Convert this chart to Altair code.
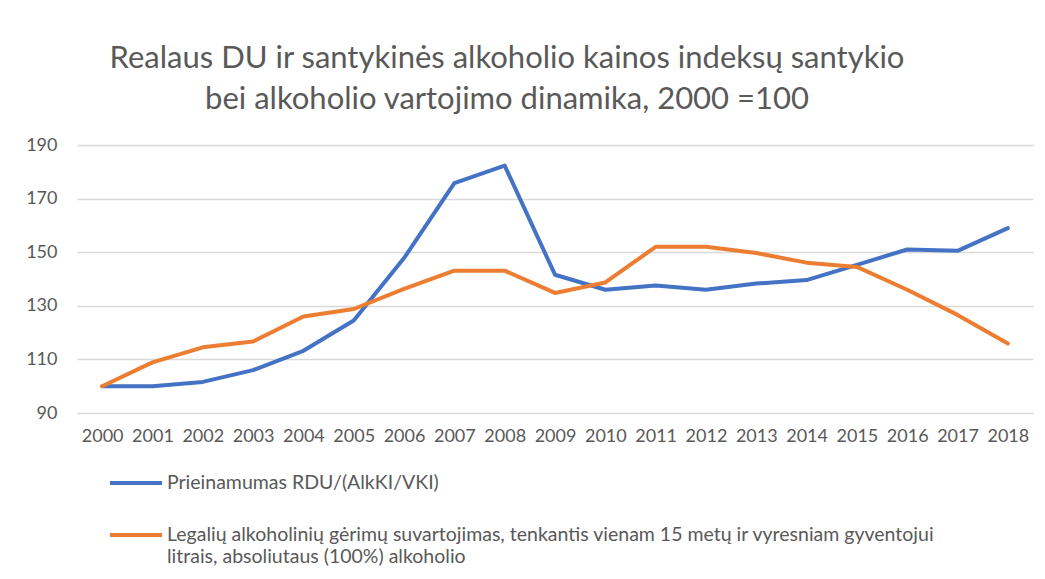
import altair as alt
import pandas as pd

years = ["2000", "2001", "2002", "2003", "2004", "2005", "2006", "2007", "2008", "2009",
         "2010", "2011", "2012", "2013", "2014", "2015", "2016", "2017", "2018"]

series_blue = "Prieinamumas RDU/(AlkKI/VKI)"
series_orange = ("Legalių alkoholinių gėrimų suvartojimas, tenkantis vienam 15 metų ir vyresniam gyventojui"
                 "|litrais, absoliutaus (100%) alkoholio")

values_blue = [100, 100, 101.6, 106, 113.2, 124.5, 147.8, 175.8, 182.3, 141.6,
               136, 137.6, 136, 138.3, 139.6, 145.3, 151, 150.5, 159]
values_orange = [100, 108.9, 114.5, 116.7, 126, 128.8, 136.3, 143.1, 143.1, 134.8,
                 138.7, 152, 152, 149.7, 146.1, 144.5, 136, 126.6, 115.9]

y_ticks = [90, 110, 130, 150, 170, 190]

title_lines = ["Realaus DU ir santykinės alkoholio kainos indeksų santykio",
               "bei alkoholio vartojimo dinamika, 2000 =100"]

rows = []
for y, v in zip(years, values_blue):
    rows.append({"year": y, "value": v, "series": series_blue})
for y, v in zip(years, values_orange):
    rows.append({"year": y, "value": v, "series": series_orange})
df = pd.DataFrame(rows)

FONT = "Lato"
GREY = "#595959"

chart = alt.Chart(df).mark_line(strokeWidth=4, strokeJoin="round", strokeCap="round").encode(
    x=alt.X("year:O", sort=years, title=None,
            axis=alt.Axis(labelAngle=0, domain=False, ticks=False, grid=False,
                          labelPadding=14, labelFontSize=18, labelColor=GREY, labelFont=FONT)),
    y=alt.Y("value:Q", title=None,
            scale=alt.Scale(domain=[90, 190], nice=False, zero=False),
            axis=alt.Axis(values=y_ticks, domain=False, ticks=False, grid=True,
                          gridColor="#D9D9D9", gridWidth=1.3,
                          labelPadding=20, labelFontSize=18, labelColor=GREY, labelFont=FONT)),
    color=alt.Color("series:N",
                    scale=alt.Scale(domain=[series_blue, series_orange], range=["#4472C4", "#ED7D31"]),
                    legend=alt.Legend(title=None, orient="none", legendX=31, legendY=310,
                                      direction="vertical", symbolType="stroke",
                                      symbolSize=2704, symbolStrokeWidth=4,
                                      labelFontSize=19.5, labelFont=FONT, labelColor=GREY,
                                      labelLimit=2000, labelOffset=3, rowPadding=14,
                                      padding=0, labelExpr="split(datum.label, '|')")),
).properties(
    width=956,
    height=268,
    background="white",
    title=alt.TitleParams(text=title_lines, fontSize=31, font=FONT, fontWeight="normal",
                          color=GREY, anchor="middle", dx=-48, offset=20, lineHeight=41),
    autosize=alt.AutoSizeParams(type="none"),
    padding={"left": 69, "top": 137, "right": 4, "bottom": 158},
).configure_view(stroke=None)

chart.save("out.html", embed_options={"renderer": "svg", "actions": False})
